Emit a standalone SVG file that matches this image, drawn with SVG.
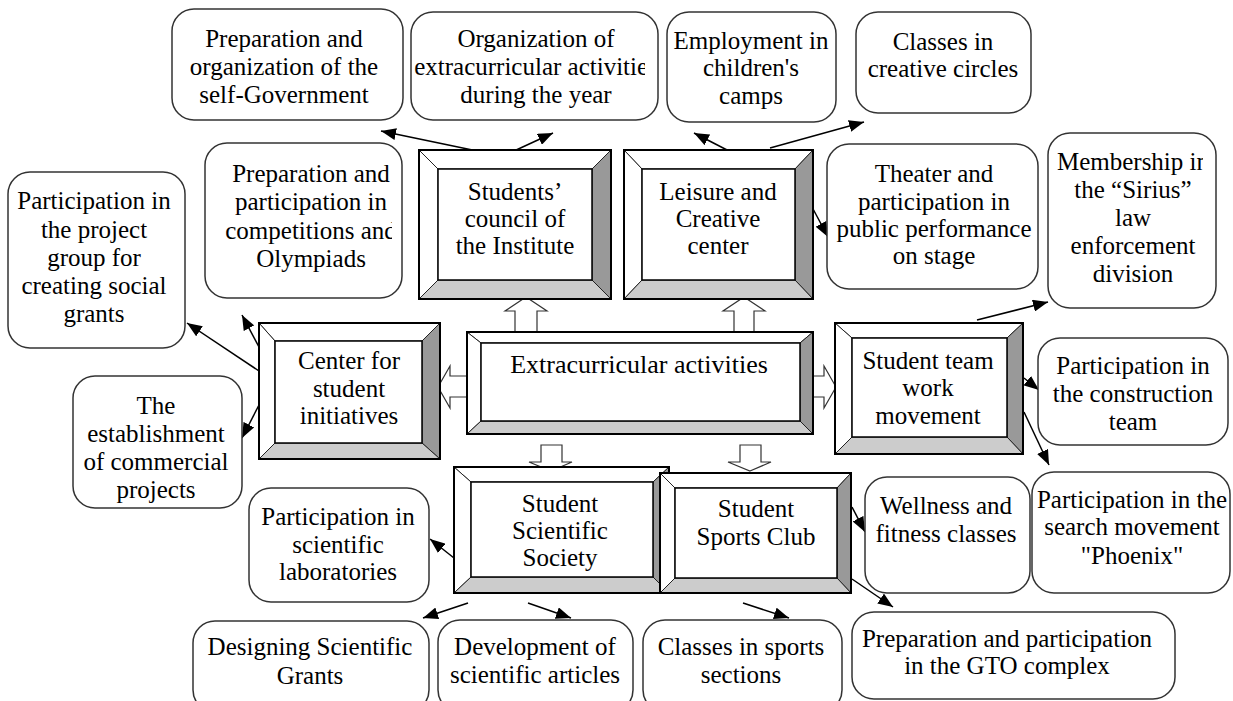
<svg xmlns="http://www.w3.org/2000/svg" width="1233" height="701" viewBox="0 0 1233 701" font-family="'Liberation Serif', 'Times New Roman', 'DejaVu Serif', serif">
<style>
text{font-family:'Liberation Serif','Times New Roman','DejaVu Serif',serif;font-size:25px;fill:#000;text-anchor:middle}
.rb{fill:#fff;stroke:#333;stroke-width:1.5}
.lt{fill:#fff;stroke:#222;stroke-width:1}
.dk{fill:#999;stroke:#222;stroke-width:1}
.md{fill:#ccc;stroke:#222;stroke-width:1}
.ir{fill:#fff;stroke:#000;stroke-width:1.5}
.or{fill:none;stroke:#000;stroke-width:2}
.ln{stroke:#000;stroke-width:1.5;fill:none;marker-end:url(#ah)}
.ba{fill:#fff;stroke:#333;stroke-width:1.2}
</style>
<defs>
<marker id="ah" markerUnits="userSpaceOnUse" markerWidth="16" markerHeight="12" refX="15" refY="6" orient="auto"><path d="M0,0 L15,6 L0,12 Z" fill="#000"/></marker>
<clipPath id="cB"><rect x="411" y="12" width="234" height="108"/></clipPath>
<clipPath id="cC"><rect x="205" y="143" width="187" height="155"/></clipPath>
<clipPath id="cM"><rect x="1048" y="133" width="155" height="175"/></clipPath>
</defs>

<g id="connectors">
<line class="ln" x1="482" y1="152" x2="381" y2="131"/>
<line class="ln" x1="514" y1="151" x2="553" y2="133"/>
<line class="ln" x1="729" y1="151" x2="694" y2="133"/>
<line class="ln" x1="770" y1="148" x2="864" y2="122"/>
<line class="ln" x1="812" y1="207" x2="828" y2="237"/>
<line class="ln" x1="977" y1="320" x2="1048" y2="302"/>
<line class="ln" x1="1024" y1="378" x2="1039" y2="390"/>
<line class="ln" x1="1024" y1="412" x2="1049" y2="465"/>
<line class="ln" x1="259" y1="371" x2="187" y2="323"/>
<line class="ln" x1="259" y1="347" x2="242" y2="315"/>
<line class="ln" x1="259" y1="405" x2="242" y2="438"/>
<line class="ln" x1="454" y1="558" x2="430" y2="539"/>
<line class="ln" x1="468" y1="603" x2="423" y2="618"/>
<line class="ln" x1="528" y1="603" x2="571" y2="618"/>
<line class="ln" x1="743" y1="603" x2="789" y2="618"/>
<line class="ln" x1="852" y1="507" x2="865" y2="532"/>
<line class="ln" x1="852" y1="579" x2="893" y2="607"/>
<polygon class="ba" points="526,297 547,311 537,311 537,332 515,332 515,311 505,311"/>
<polygon class="ba" points="744,297 765,311 754,311 754,332 734,332 734,311 723,311"/>
<polygon class="ba" points="438,387 450,366 450,376 467,376 467,397 450,397 450,408"/>
<polygon class="ba" points="836,387 824,366 824,376 813,376 813,397 824,397 824,408"/>
<polygon class="ba" points="551,471 572,462 562,462 562,445 541,445 541,462 529,462"/>
<polygon class="ba" points="750,471 771,462 761,462 761,445 740,445 740,462 728,462"/>
</g>

<g id="n-selfgov"><rect class="rb" x="172" y="9" width="231" height="111" rx="22"/>
<text x="284" y="47">Preparation and</text><text x="284" y="75">organization of the</text><text x="284" y="103">self-Government</text></g>

<g id="n-organization"><rect class="rb" x="411" y="12" width="247" height="108" rx="22"/>
<g clip-path="url(#cB)"><text x="536" y="47">Organization of</text><text x="536" y="75">extracurricular activities</text><text x="536" y="103">during the year</text></g></g>

<g id="n-employment"><rect class="rb" x="667" y="12" width="169" height="110" rx="22"/>
<text x="751" y="49">Employment in</text><text x="751" y="76">children's</text><text x="751" y="104">camps</text></g>

<g id="n-creative"><rect class="rb" x="856" y="12" width="175" height="101" rx="22"/>
<text x="943" y="50">Classes in</text><text x="943" y="77">creative circles</text></g>

<g id="n-competitions"><rect class="rb" x="205" y="143" width="197" height="155" rx="22"/>
<g clip-path="url(#cC)"><text x="311" y="182">Preparation and</text><text x="311" y="210">participation in</text><text x="311" y="239">competitions and</text><text x="311" y="267">Olympiads</text></g></g>

<g id="n-theater"><rect class="rb" x="827" y="144" width="211" height="145" rx="22"/>
<text x="934" y="182">Theater and</text><text x="934" y="210">participation in</text><text x="934" y="237">public performance</text><text x="934" y="264">on stage</text></g>

<g id="n-sirius"><rect class="rb" x="1048" y="133" width="168" height="175" rx="22"/>
<g clip-path="url(#cM)"><text x="1133" y="170">Membership in</text><text x="1133" y="198">the “Sirius”</text><text x="1133" y="226">law</text><text x="1133" y="254">enforcement</text><text x="1133" y="282">division</text></g></g>

<g id="n-project"><rect class="rb" x="8" y="172" width="177" height="176" rx="22"/>
<text x="94" y="209">Participation in</text><text x="94" y="238">the project</text><text x="94" y="266">group for</text><text x="94" y="294">creating social</text><text x="94" y="322">grants</text></g>

<g id="n-commercial"><rect class="rb" x="73" y="376" width="169" height="132" rx="22"/>
<text x="156" y="414">The</text><text x="156" y="442">establishment</text><text x="156" y="470">of commercial</text><text x="156" y="498">projects</text></g>

<g id="n-construction"><rect class="rb" x="1038" y="338" width="190" height="107" rx="22"/>
<text x="1133" y="374">Participation in</text><text x="1133" y="402">the construction</text><text x="1133" y="430">team</text></g>

<g id="n-labs"><rect class="rb" x="249" y="488" width="180" height="114" rx="22"/>
<text x="338" y="525">Participation in</text><text x="338" y="553">scientific</text><text x="338" y="580">laboratories</text></g>

<g id="n-wellness"><rect class="rb" x="865" y="477" width="165" height="116" rx="22"/>
<text x="946" y="514">Wellness and</text><text x="946" y="542">fitness classes</text></g>

<g id="n-phoenix"><rect class="rb" x="1032" y="472" width="198" height="121" rx="22"/>
<text x="1132" y="508">Participation in the</text><text x="1132" y="535">search movement</text><text x="1132" y="564">"Phoenix"</text></g>

<g id="n-designing"><rect class="rb" x="193" y="621" width="236" height="91" rx="22"/>
<text x="310" y="655">Designing Scientific</text><text x="310" y="684">Grants</text></g>

<g id="n-articles"><rect class="rb" x="438" y="620" width="195" height="92" rx="22"/>
<text x="535" y="655">Development of</text><text x="535" y="683">scientific articles</text></g>

<g id="n-sports-sections"><rect class="rb" x="643" y="620" width="199" height="92" rx="22"/>
<text x="741" y="655">Classes in sports</text><text x="741" y="683">sections</text></g>

<g id="n-gto"><rect class="rb" x="852" y="612" width="323" height="87" rx="22"/>
<text x="1007" y="647">Preparation and participation</text><text x="1007" y="674">in the GTO complex</text></g>

<g id="n-council">
<polygon class="lt" points="419,150 611,150 592,169 438,169"/>
<polygon class="lt" points="419,150 438,169 438,280 419,299"/>
<polygon class="dk" points="611,150 611,299 592,280 592,169"/>
<polygon class="md" points="419,299 438,280 592,280 611,299"/>
<rect class="ir" x="438" y="169" width="154" height="111"/>
<rect class="or" x="419" y="150" width="192" height="149"/>
<text x="515" y="200">Students’</text><text x="515" y="227">council of</text><text x="515" y="254">the Institute</text></g>

<g id="n-leisure">
<polygon class="lt" points="624,150 813,150 795,169 642,169"/>
<polygon class="lt" points="624,150 642,169 642,280 624,299"/>
<polygon class="dk" points="813,150 813,299 795,280 795,169"/>
<polygon class="md" points="624,299 642,280 795,280 813,299"/>
<rect class="ir" x="642" y="169" width="153" height="111"/>
<rect class="or" x="624" y="150" width="189" height="149"/>
<text x="718" y="200">Leisure and</text><text x="718" y="227">Creative</text><text x="718" y="254">center</text></g>

<g id="n-extracurricular">
<polygon class="lt" points="467,332 813,332 800,343 481,343"/>
<polygon class="lt" points="467,332 481,343 481,421 467,434"/>
<polygon class="dk" points="813,332 813,434 800,421 800,343"/>
<polygon class="md" points="467,434 481,421 800,421 813,434"/>
<rect class="ir" x="481" y="343" width="319" height="78"/>
<rect class="or" x="467" y="332" width="346" height="102"/>
<text x="639" y="373" style="font-size:26px">Extracurricular activities</text></g>

<g id="n-initiatives">
<polygon class="lt" points="259,323 440,323 422,341 275,341"/>
<polygon class="lt" points="259,323 275,341 275,443 259,459"/>
<polygon class="dk" points="440,323 440,459 422,443 422,341"/>
<polygon class="md" points="259,459 275,443 422,443 440,459"/>
<rect class="ir" x="275" y="341" width="147" height="102"/>
<rect class="or" x="259" y="323" width="181" height="136"/>
<text x="349" y="369">Center for</text><text x="349" y="397">student</text><text x="349" y="424">initiatives</text></g>

<g id="n-teamwork">
<polygon class="lt" points="835,323 1023,323 1007,338 852,338"/>
<polygon class="lt" points="835,323 852,338 852,437 835,454"/>
<polygon class="dk" points="1023,323 1023,454 1007,437 1007,338"/>
<polygon class="md" points="835,454 852,437 1007,437 1023,454"/>
<rect class="ir" x="852" y="338" width="155" height="99"/>
<rect class="or" x="835" y="323" width="188" height="131"/>
<text x="928" y="369">Student team</text><text x="928" y="396">work</text><text x="928" y="424">movement</text></g>

<g id="n-scientific">
<polygon class="lt" points="454,467 669,467 653,482 471,482"/>
<polygon class="lt" points="454,467 471,482 471,577 454,593"/>
<polygon class="dk" points="669,467 669,593 653,577 653,482"/>
<polygon class="md" points="454,593 471,577 653,577 669,593"/>
<rect class="ir" x="471" y="482" width="182" height="95"/>
<rect class="or" x="454" y="467" width="215" height="126"/>
<text x="560" y="512">Student</text><text x="560" y="539">Scientific</text><text x="560" y="566">Society</text></g>

<g id="n-sportsclub">
<polygon class="lt" points="660,473 851,473 837,488 675,488"/>
<polygon class="lt" points="660,473 675,488 675,578 660,593"/>
<polygon class="dk" points="851,473 851,593 837,578 837,488"/>
<polygon class="md" points="660,593 675,578 837,578 851,593"/>
<rect class="ir" x="675" y="488" width="162" height="90"/>
<rect class="or" x="660" y="473" width="191" height="120"/>
<text x="756" y="517">Student</text><text x="756" y="545">Sports Club</text></g>
</svg>
